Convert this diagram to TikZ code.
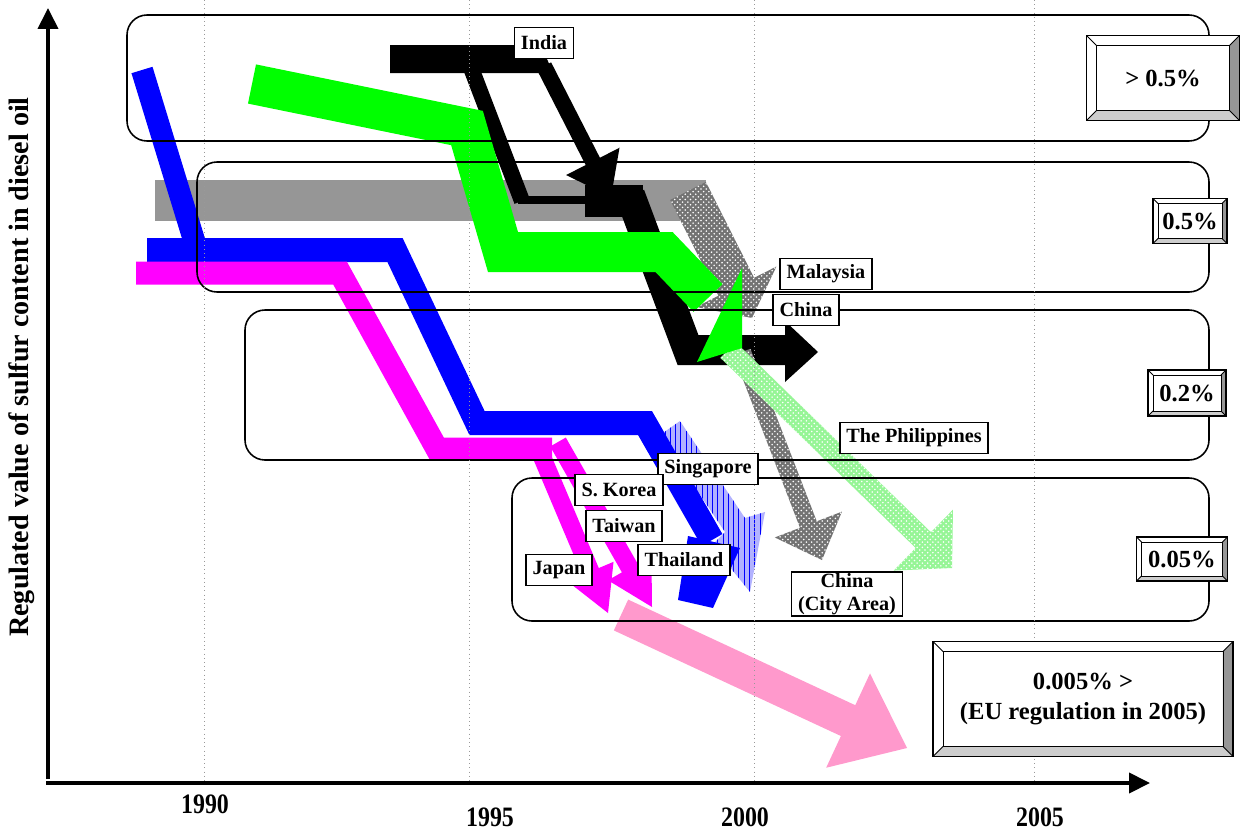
\documentclass[tikz,border=0pt]{standalone}
\usepackage{fontspec}
\setmainfont{Liberation Serif}
\usepackage{graphicx}
\usepackage{tikz}
\usetikzlibrary{calc,patterns,arrows.meta}

\definecolor{bandgray}{RGB}{150,150,150}
\definecolor{pinkband}{RGB}{255,153,204}
\definecolor{purplepink}{RGB}{255,0,255}
\definecolor{pastelgreen}{RGB}{150,245,150}
\definecolor{bevdark}{RGB}{150,150,150}
\definecolor{bevlight}{RGB}{205,205,205}

\newcommand{\lblfont}{\fontsize{11.5}{13}\selectfont\bfseries}
\newcommand{\bevfont}{\fontsize{14}{17}\selectfont\bfseries}
\newcommand{\yearfont}{\fontsize{16}{18}\selectfont\bfseries}

% straight fat arrow: style, from, tip, half shaft, head length, half head
\newcommand{\fatarrow}[6]{%
  \coordinate (fa-b) at ($(#3)!#5!(#2)$);
  \path[#1] ($(#2)!#4!90:(#3)$) -- ($(fa-b)!#4!90:(#3)$) -- ($(fa-b)!#6!90:(#3)$)
    -- (#3) -- ($(fa-b)!#6!-90:(#3)$) -- ($(fa-b)!#4!-90:(#3)$)
    -- ($(#2)!#4!-90:(#3)$) -- cycle;}

\begin{document}
\begin{tikzpicture}[x=0.02cm, y=-0.02cm,
    band/.style={line width=#1, line join=miter, line cap=butt},
    lvl/.style={draw, line width=0.9pt, rounded corners=0.4cm},
    yeargrid/.style={dotted, gray!80, line width=0.4pt},
    axis/.style={line width=0.08cm, -{Triangle[length=0.42cm,width=0.4cm]}},
    lbl/.style={draw, fill=white, line width=0.9pt, font=\lblfont, inner xsep=0.13cm, inner ysep=0.05cm, minimum height=0.62cm},
    yearlbl/.style={font=\yearfont, inner sep=0pt},
    checker/.style={fill=black!55, postaction={pattern=crosshatch dots, pattern color=white}},
    hatch/.style={fill=blue!30, postaction={pattern=vertical lines, pattern color=blue}},
    dotgreen/.style={fill=pastelgreen, postaction={pattern=crosshatch dots, pattern color=white}},
    bevel/.style={draw, fill=white, line width=0.7pt, inner sep=0pt, align=center, font=\bevfont,
      path picture={
        \fill[bevdark] (path picture bounding box.north east) -- (path picture bounding box.south east)
          -- ([shift={(-#1,#1)}]path picture bounding box.south east) -- ([shift={(-#1,-#1)}]path picture bounding box.north east) -- cycle;
        \fill[bevlight] (path picture bounding box.south west) -- (path picture bounding box.south east)
          -- ([shift={(-#1,#1)}]path picture bounding box.south east) -- ([shift={(#1,#1)}]path picture bounding box.south west) -- cycle;
        \draw[line width=0.5pt] ([shift={(#1,#1)}]path picture bounding box.south west) rectangle ([shift={(-#1,-#1)}]path picture bounding box.north east);
        \draw[line width=0.5pt] (path picture bounding box.south west) -- ([shift={(#1,#1)}]path picture bounding box.south west)
          (path picture bounding box.south east) -- ([shift={(-#1,#1)}]path picture bounding box.south east)
          (path picture bounding box.north east) -- ([shift={(-#1,-#1)}]path picture bounding box.north east)
          (path picture bounding box.north west) -- ([shift={(#1,-#1)}]path picture bounding box.north west);
      }},
    bevel/.default=0.2cm
]
    \useasboundingbox (0,0) rectangle (1241,832);

    % Gray band
    \fill[bandgray] (155,180) rectangle (706,221);

    % India (black)
    \fill (390,45) -- (541,45) -- (553,73) -- (390,73) -- cycle;
    \fatarrow{fill=black}{544,66}{611,197}{0.16cm}{0.8cm}{0.6cm}
    \draw[band=0.32cm] (468,60) -- (522,201);
    \draw[band=0.16cm] (518,200) -- (590,200);
    \fill (585,185) rectangle (643,217);
    \draw[band=0.6cm] (630,195) -- (688,350) -- (786,350);
    \fill (785,321) -- (818,352) -- (785,382) -- cycle;

    % Patterned arrows
    \fatarrow{checker}{688,191}{752,318}{0.4cm}{0.7cm}{0.9cm}
    \fatarrow{checker}{742,352}{822,560}{0.18cm}{0.76cm}{0.72cm}
    \fatarrow{dotgreen}{728,350}{952,568}{0.22cm}{0.8cm}{0.85cm}

    % Green
    \draw[band=0.8cm, green] (252,84) -- (467,128) -- (503,252) -- (664,252) -- (708,298);
    \fill[green] (742,268) -- (742,348) -- (697,362) -- cycle;

    % Singapore (hatched)
    \fill[hatch] (660,435) -- (680,421) -- (745,518) -- (765,512) -- (750,592) -- (712,545) -- (725,532) -- cycle;

    % Blue
    \draw[band=0.44cm, blue] (142,70) -- (197,250);
    \draw[band=0.48cm, blue] (147,250) -- (395,250) -- (477,423) -- (645,423) -- (712,540);
    \fill[blue] (688,536) -- (740,548) -- (713,608) -- (678,600) -- cycle;

    % Pink
    \fatarrow{fill=pinkband}{621,615}{907,748}{0.34cm}{1.3cm}{1.04cm}

    % Magenta
    \draw[band=0.46cm, purplepink] (136,273) -- (340,273) -- (437,449) -- (552,449);
    \fatarrow{fill=purplepink}{540,452}{608,613}{0.18cm}{0.9cm}{0.5cm}
    \fatarrow{fill=purplepink}{558,442}{652,607}{0.18cm}{0.9cm}{0.5cm}

    % Level boxes
    \draw[lvl] (127,15) rectangle (1209,141);
    \draw[lvl] (197,162) rectangle (1209,292);
    \draw[lvl] (245,310) rectangle (1209,460);
    \draw[lvl] (512,478) rectangle (1209,621);

    % Year grid
    \foreach \gx in {204,469,754,1034}
        \draw[yeargrid] (\gx,0) -- (\gx,781);

    % Country labels
    \node[lbl] (india) at (544,43) {India};
    \node[lbl] (malaysia) at (826,274) {Malaysia};
    \node[lbl] (china) at (806,310) {China};
    \node[lbl] (phil) at (914,438) {The Philippines};
    \node[lbl] (sing) at (708,469) {Singapore};
    \node[lbl] (korea) at (619,490) {S. Korea};
    \node[lbl] (taiwan) at (624,526) {Taiwan};
    \node[lbl] (thai) at (684,560) {Thailand};
    \node[lbl] (japan) at (559,570) {Japan};
    \node[lbl, align=center, inner ysep=0.03cm] (chinacity) at (847,594) {China\\(City Area)};

    % Regulation levels
    \node[bevel, minimum width=3.06cm, minimum height=1.7cm] (lvA) at (1163,78) {> 0.5\%};
    \node[bevel=0.1cm, minimum width=1.48cm, minimum height=0.9cm] (lvB) at (1190,221) {0.5\%};
    \node[bevel=0.1cm, minimum width=1.56cm, minimum height=0.92cm] (lvC) at (1187,393) {0.2\%};
    \node[bevel=0.1cm, minimum width=1.82cm, minimum height=0.88cm] (lvD) at (1182,559) {0.05\%};
    \node[bevel, minimum width=6cm, minimum height=2.3cm] (lvE) at (1083,699) {0.005\% >\\(EU regulation in 2005)};

    % Axes
    \draw[axis] (48,779) -- (48,8);
    \draw[axis] (46,783) -- (1150,783);
    \node[yearlbl] (yr1990) at (205,804) {\scalebox{0.85}[1]{1990}};
    \node[yearlbl] (yr1995) at (490,817) {\scalebox{0.85}[1]{1995}};
    \node[yearlbl] (yr2000) at (745,817) {\scalebox{0.85}[1]{2000}};
    \node[yearlbl] (yr2005) at (1040,817) {\scalebox{0.85}[1]{2005}};
    \node[rotate=90, font=\yearfont] (ylabel) at (22,367) {Regulated value of sulfur content in diesel oil};
\end{tikzpicture}
\end{document}
